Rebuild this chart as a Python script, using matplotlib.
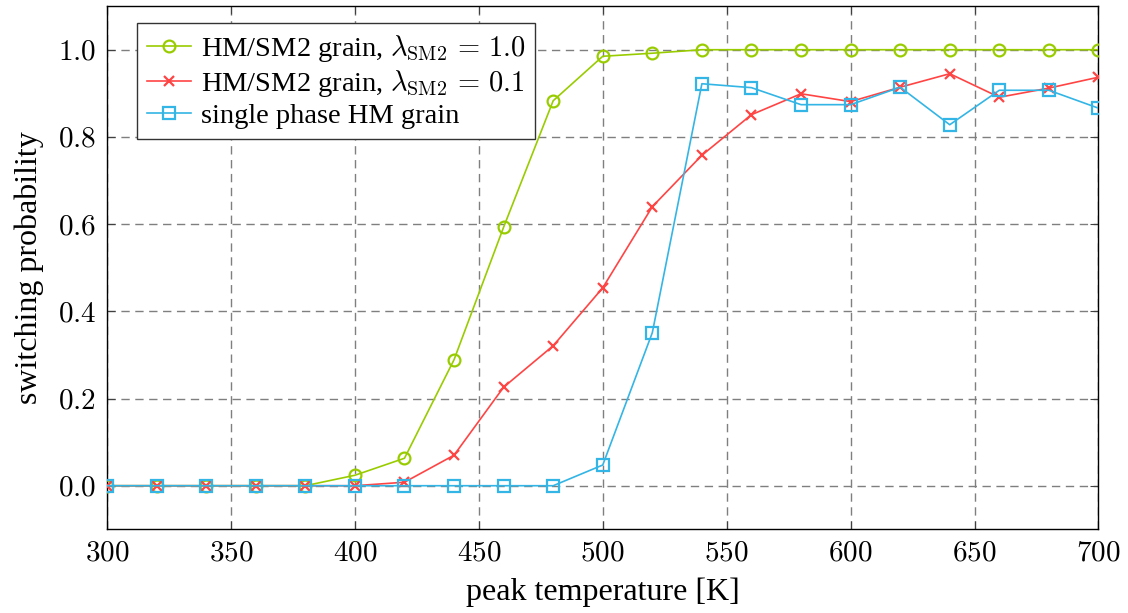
import matplotlib
matplotlib.use("Agg")
import matplotlib.pyplot as plt
from matplotlib.ticker import FuncFormatter

plt.rcParams["font.family"] = ["Liberation Serif", "DejaVu Serif"]
plt.rcParams["mathtext.fontset"] = "cm"

temperature = [300, 320, 340, 360, 380, 400, 420, 440, 460, 480, 500,
               520, 540, 560, 580, 600, 620, 640, 660, 680, 700]

p_lambda_10 = [0.0, 0.0, 0.0, 0.0, 0.0, 0.024, 0.063, 0.289, 0.593, 0.883, 0.985,
               0.992, 1.0, 1.0, 1.0, 1.0, 1.0, 1.0, 1.0, 1.0, 1.0]
p_lambda_01 = [0.0, 0.0, 0.0, 0.0, 0.0, 0.0, 0.008, 0.070, 0.226, 0.321, 0.454,
               0.640, 0.758, 0.851, 0.899, 0.881, 0.914, 0.945, 0.891, 0.912, 0.937]
p_single = [0.0, 0.0, 0.0, 0.0, 0.0, 0.0, 0.0, 0.0, 0.0, 0.0, 0.0475,
            0.351, 0.922, 0.913, 0.874, 0.874, 0.914, 0.828, 0.907, 0.907, 0.866]

x_ticks = [300, 350, 400, 450, 500, 550, 600, 650, 700]
y_ticks = [0.0, 0.2, 0.4, 0.6, 0.8, 1.0]

labels = [r"HM/SM2 grain, $\lambda_{\mathrm{SM2}}\,=\,1.0$",
          r"HM/SM2 grain, $\lambda_{\mathrm{SM2}}\,=\,0.1$",
          "single phase HM grain"]

green = "#99cc00"
red = "#ff4444"
blue = "#33b5e5"

fig = plt.figure(figsize=(11.28, 6.13), dpi=100)
ax = fig.add_axes([0.0949, 0.1365, 0.8789, 0.8535])

ax.plot(temperature, p_lambda_10, color=green, lw=1.2, marker="o", ms=8.5,
        mfc="none", mec=green, mew=1.6, label=labels[0], zorder=3)
ax.plot(temperature, p_lambda_01, color=red, lw=1.2, marker="x", ms=7,
        mec=red, mew=1.6, label=labels[1], zorder=4)
ax.plot(temperature, p_single, color=blue, lw=1.2, marker="s", ms=8.5,
        mfc="none", mec=blue, mew=1.6, label=labels[2], zorder=5)

ax.set_xlim(300, 700)
ax.set_ylim(-0.1, 1.1)
ax.set_xticks(x_ticks)
ax.set_yticks(y_ticks)
ax.xaxis.set_major_formatter(FuncFormatter(lambda v, p: r"$%d$" % v))
ax.yaxis.set_major_formatter(FuncFormatter(lambda v, p: r"$%.1f$" % v))
ax.tick_params(direction="in", top=True, right=True, length=6, width=0.8,
               labelsize=21, pad=8, color="#404040")
ax.grid(True, color="#7f7f7f", linestyle=(0, (6, 4)), linewidth=1.0)
ax.set_axisbelow(True)
for s in ax.spines.values():
    s.set_linewidth(1.0)

ax.set_xlabel("peak temperature [K]", fontsize=23, labelpad=8)
ax.set_ylabel("switching probability", fontsize=23, labelpad=10)

leg = ax.legend(loc="upper left", bbox_to_anchor=(0.03, 0.968), fontsize=20.5,
                frameon=True, fancybox=False, edgecolor="#333333",
                handlelength=1.55, handletextpad=0.35, borderpad=0.35,
                labelspacing=0.15, borderaxespad=0.0)
leg.get_frame().set_linewidth(1.0)
leg.get_frame().set_alpha(1.0)

fig.savefig("out.png", dpi=100)
